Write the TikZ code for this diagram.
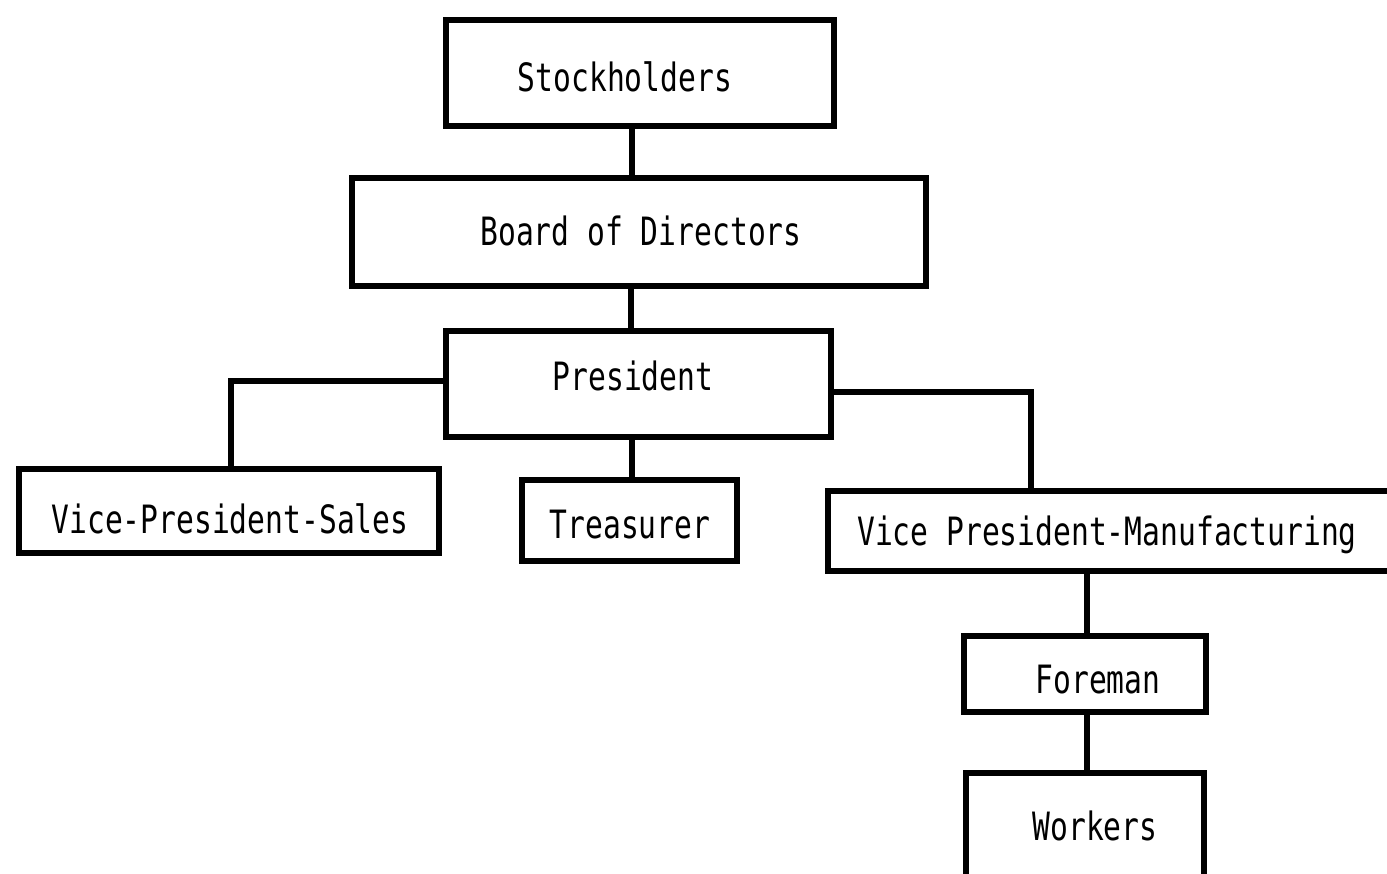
\documentclass[tikz,border=0pt]{standalone}
\usepackage{fontspec}
\newfontfamily\typer[FakeStretch=0.76]{DejaVu Sans Mono}
\begin{document}
\begin{tikzpicture}[x=1pt,y=-1pt,
  box/.style={draw, line width=6pt, inner sep=0pt, rectangle},
  lbl/.style={inner sep=0pt, font=\typer\fontsize{39}{39}\selectfont, text height=28pt, text depth=0pt},
  link/.style={line width=6pt}]
\useasboundingbox (0,0) rectangle (1387,874);
\clip (0,0) rectangle (1387,874);
\fill[white] (0,0) rectangle (1387,874);

% boxes of the organisation chart
\node[box, minimum width=388pt, minimum height=106pt,
  label={[lbl, xshift=-15pt, yshift=-5pt]center:Stockholders}] (stock) at (640,73) {};
\node[box, minimum width=574pt, minimum height=108pt,
  label={[lbl, xshift=2pt]center:Board of Directors}] (board) at (639,232) {};
\node[box, minimum width=385pt, minimum height=105pt,
  label={[lbl, xshift=-5pt, yshift=7pt]center:President}] (pres) at (638,384) {};
\node[box, minimum width=420pt, minimum height=84pt,
  label={[lbl, xshift=1pt, yshift=-8pt]center:Vice-President-Sales}] (vps) at (229,511) {};
\node[box, minimum width=215pt, minimum height=81pt,
  label={[lbl, xshift=1pt, yshift=-4pt]center:Treasurer}] (treas) at (629,520) {};
\node[box, minimum width=572pt, minimum height=80pt,
  label={[lbl, xshift=-7pt]center:Vice President-Manufacturing}] (vpm) at (1114,531) {};
\node[box, minimum width=242pt, minimum height=76pt,
  label={[lbl, xshift=13pt, yshift=-5pt]center:Foreman}] (fore) at (1085,674) {};
\node[box, minimum width=238pt, minimum height=130pt,
  label={[lbl, xshift=10pt, yshift=12pt]center:Workers}] (work) at (1085,838) {};

% reporting lines
\draw[link] ([xshift=-8pt]stock.south) -- ([xshift=-8pt]stock.south |- board.north);
\draw[link] ([xshift=-8pt]board.south) -- ([xshift=-8pt]board.south |- pres.north);
\draw[link] ([yshift=3pt]pres.west) -| ([xshift=2pt]vps.north);
\draw[link] ([xshift=-6pt]pres.south) -- ([xshift=-6pt]pres.south |- treas.north);
\draw[link] ([yshift=-8pt]pres.east) -| ([xshift=-83pt]vpm.north);
\draw[link] ([xshift=2pt]fore.north) -- ([xshift=2pt]fore.north |- vpm.south);
\draw[link] ([xshift=2pt]fore.south) -- ([xshift=2pt]fore.south |- work.north);
\end{tikzpicture}
\end{document}
